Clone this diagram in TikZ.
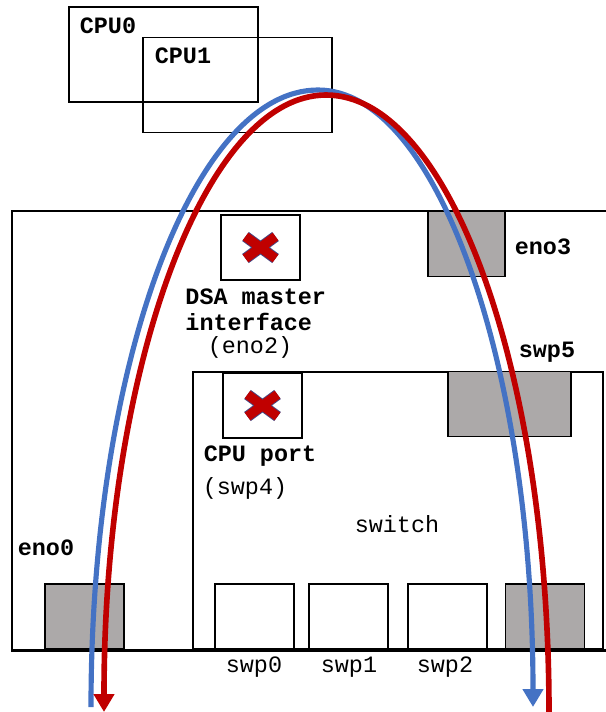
\documentclass[tikz,border=0pt]{standalone}
\usepackage{fontspec}
\setmonofont{Liberation Mono}
\usepackage{xcolor}
\usetikzlibrary{arrows.meta}

\definecolor{portgray}{RGB}{172,169,169}
\definecolor{archblue}{RGB}{68,114,196}
\definecolor{archred}{RGB}{192,0,0}
\definecolor{xedge}{RGB}{70,70,130}

\begin{document}
\begin{tikzpicture}[
  x=0.015cm, y=-0.015cm,
  lbl/.style={font=\ttfamily\bfseries\fontsize{10}{11}\selectfont, inner sep=0pt},
  txt/.style={font=\ttfamily\fontsize{10}{11}\selectfont, inner sep=0pt},
  frame/.style={draw, line width=0.7pt, inner sep=0pt},
  cpubox/.style={frame, minimum width=2.835cm, minimum height=1.43cm},
  port/.style={frame, fill=white, minimum width=1.185cm, minimum height=0.975cm},
  gport/.style={port, fill=portgray},
  bluearc/.style={archblue, line width=2.2pt,
                  -{Triangle[length=0.27cm,width=0.3cm]}},
  redarc/.style={archred, line width=2.4pt,
                 -{Triangle[length=0.27cm,width=0.3cm]}},
  redx/.pic={
    \draw[xedge, line width=4.8pt] (-15,-11) -- (15,11) (-15,11) -- (15,-11);
    \draw[archred, line width=4pt] (-15,-11) -- (15,11) (-15,11) -- (15,-11);
  },
]
\useasboundingbox (0,0) rectangle (606,712);

%% ---- CPUs ----
\node[cpubox] (cpu0) at (163.5,54.5) {};
\node[cpubox] (cpu1) at (237.5,85) {};
\node[lbl] (cpu0lbl) at (108,26) {CPU0};
\node[lbl] (cpu1lbl) at (183,56) {CPU1};

%% ---- Host and switch ----
\node[frame, minimum width=8.97cm, minimum height=6.585cm] (host) at (311,430.5) {};
\node[frame, minimum width=6.15cm, minimum height=4.155cm] (sw) at (398,510.5) {};
\draw[line width=1.2pt] (host.south west) -- (host.south east);

%% ---- Host ports ----
\node[port]  (eno2) at (260.5,247.5) {};
\pic at (eno2) {redx};
\node[gport, minimum width=1.155cm] (eno3) at (466.5,244) {};
\node[gport] (eno0) at (84.5,616.5) {};
\node[lbl, align=left, anchor=west] (eno2lbl) at (185,310) {DSA master\\interface};
\node[txt] (eno2name) at (250,347) {(eno2)};
\node[lbl] (eno3lbl) at (543,247) {eno3};
\node[lbl] (eno0lbl) at (46,548) {eno0};

%% ---- Switch ports ----
\node[port]  (swp4) at (262.5,405.5) {};
\pic at (swp4) {redx};
\node[gport, minimum width=1.845cm] (swp5) at (509.5,404) {};
\node[port]  (swp0) at (254.5,616.5) {};
\node[port]  (swp1) at (348.5,616.5) {};
\node[port]  (swp2) at (447.5,616.5) {};
\node[gport] (swp3) at (545,616.5) {};
\node[lbl] (swp4lbl) at (260,456) {CPU port};
\node[txt] (swp4name) at (245,488) {(swp4)};
\node[txt] (swlbl) at (397,524) {switch};
\node[lbl] (swp5lbl) at (547,352) {swp5};
\node[txt] (swp0lbl) at (254,667) {swp0};
\node[txt] (swp1lbl) at (349,667) {swp1};
\node[txt] (swp2lbl) at (445,667) {swp2};

%% ---- Traffic arcs ----
\coordinate (bL) at (91,707);
\coordinate (bTop) at (318,90);
\coordinate (bR) at (533,707);
\coordinate (rR) at (549,712);
\coordinate (rTop) at (326,95);
\coordinate (rL) at (104,712);
\draw[bluearc] (bL) .. controls (91,366) and (193,90) .. (bTop)
                    .. controls (437,90) and (533,366) .. (bR);
\draw[redarc] (rR) .. controls (549,371) and (449,95) .. (rTop)
                   .. controls (204,95) and (104,371) .. (rL);

\end{tikzpicture}
\end{document}
